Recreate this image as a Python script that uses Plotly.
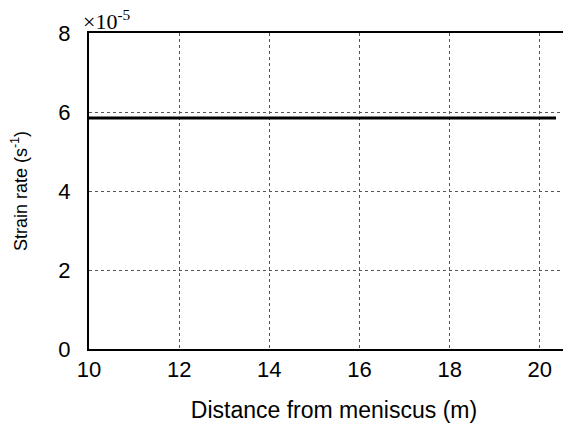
import plotly.graph_objects as go

# Data (strain rate in units of 1e-5 s^-1)
distance_m = [10.0, 20.36]
strain_rate_e5 = [5.85, 5.85]
x_ticks = [10, 12, 14, 16, 18, 20]
y_ticks = [0, 2, 4, 6, 8]

fig = go.Figure()
fig.add_trace(go.Scatter(
    x=distance_m, y=strain_rate_e5, mode="lines",
    line=dict(color="black", width=3), showlegend=False,
))

axis_font = dict(family="Liberation Sans, Arial, sans-serif", size=22, color="black")

fig.update_layout(
    width=571, height=426,
    margin=dict(l=81, r=0, t=25, b=85),
    paper_bgcolor="white", plot_bgcolor="white",
    xaxis=dict(
        range=[10, 20.87], tickvals=x_ticks, ticktext=[str(v) for v in x_ticks],
        showgrid=True, gridcolor="#555555", griddash="dot", gridwidth=1,
        showline=True, linecolor="black", linewidth=2, mirror=True,
        ticks="", tickfont=axis_font, zeroline=False, automargin=False,
        ticklabelstandoff=0,
        title=dict(text="Distance from meniscus (m)",
                   font=dict(family="Liberation Sans, Arial, sans-serif", size=23, color="black"),
                   standoff=20),
    ),
    yaxis=dict(
        range=[0, 8], tickvals=y_ticks, ticktext=[str(v) for v in y_ticks],
        showgrid=True, gridcolor="#555555", griddash="dot", gridwidth=1,
        showline=True, linecolor="black", linewidth=2,
        ticks="", tickfont=axis_font, zeroline=False, ticklabelstandoff=12,
        automargin=False,
        title=dict(text="Strain rate (s<sup>-1</sup>)",
                   font=dict(family="Liberation Sans, Arial, sans-serif", size=18, color="black"),
                   standoff=26),
    ),
    annotations=[dict(
        text="×10<sup>-5</sup>", xref="paper", yref="paper", x=-0.016, y=1,
        xanchor="left", yanchor="bottom", yshift=-3, showarrow=False,
        font=dict(family="Liberation Serif, serif", size=22, color="black"),
    )],
)

fig.write_html("out.html")
